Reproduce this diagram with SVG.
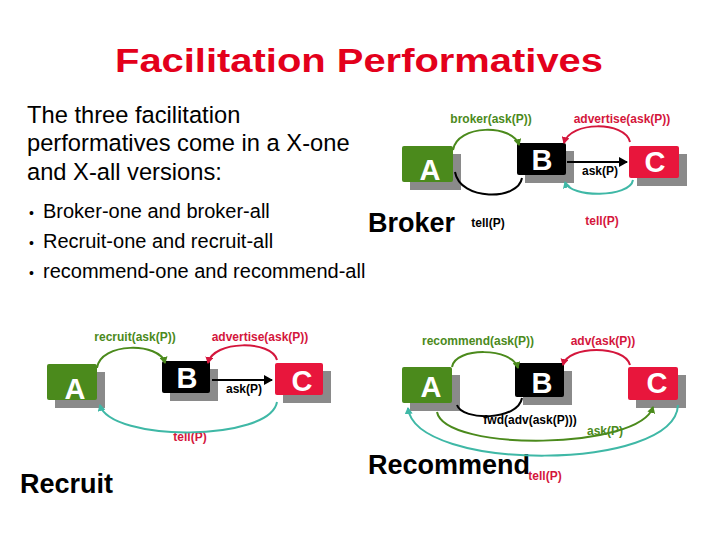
<svg xmlns="http://www.w3.org/2000/svg" width="720" height="540" viewBox="0 0 720 540">
<style>
.t{font-family:"Liberation Sans",Arial,sans-serif}
.b{font-family:"Liberation Sans",Arial,sans-serif;font-weight:bold}
.lbl{font-family:"Liberation Sans",Arial,sans-serif;font-weight:bold;font-size:12px;text-anchor:middle}
.g{fill:#4b8a1c}.r{fill:#d4163c}.k{fill:#000}
.sh{fill:#8a8a8a}
.box{font-family:"Liberation Sans",Arial,sans-serif;font-weight:bold;font-size:29px;fill:#fff;text-anchor:middle}
.big{font-family:"Liberation Sans",Arial,sans-serif;font-weight:bold;font-size:27px;fill:#000}
.c{fill:none;stroke-width:2}
</style>
<defs>
<marker id="ag" markerWidth="8" markerHeight="8" refX="6" refY="4" orient="auto" markerUnits="userSpaceOnUse"><path d="M0,0 L7,4 L0,8 z" fill="#4b8a1c"/></marker>
<marker id="ar" markerWidth="8" markerHeight="8" refX="6" refY="4" orient="auto" markerUnits="userSpaceOnUse"><path d="M0,0 L7,4 L0,8 z" fill="#d4163c"/></marker>
<marker id="at" markerWidth="8" markerHeight="8" refX="6" refY="4" orient="auto" markerUnits="userSpaceOnUse"><path d="M0,0 L7,4 L0,8 z" fill="#3fb8a6"/></marker>
<marker id="ak" markerWidth="10" markerHeight="10" refX="8" refY="5" orient="auto" markerUnits="userSpaceOnUse"><path d="M0,0 L9,5 L0,10 z" fill="#000"/></marker>
</defs>
<rect width="720" height="540" fill="#fff"/>
<text x="359" y="72" class="b" font-size="34" fill="#e3001b" text-anchor="middle" textLength="488" lengthAdjust="spacingAndGlyphs">Facilitation Performatives</text>
<g class="t" font-size="23.7" fill="#000">
<text x="27" y="123">The three facilitation</text>
<text x="27" y="151">performatives come in a X-one</text>
<text x="27" y="180">and X-all versions:</text>
</g>
<g class="t" font-size="20" fill="#000">
<text x="29" y="218" font-size="14">•</text><text x="43" y="218">Broker-one and broker-all</text>
<text x="29" y="248" font-size="14">•</text><text x="43" y="248">Recruit-one and recruit-all</text>
<text x="29" y="278" font-size="14">•</text><text x="43" y="278">recommend-one and recommend-all</text>
</g>

<!-- Broker -->
<g id="broker-A"><rect x="410" y="154" width="51" height="36" class="sh"/><rect x="402" y="146" width="51" height="36" rx="2" class="g"/><text x="430" y="180" class="box" font-size="32">A</text></g>
<g id="broker-B"><rect x="525" y="151" width="49" height="32" class="sh"/><rect x="517" y="143" width="49" height="32" rx="2" class="k"/><text x="542" y="170" class="box">B</text></g>
<g id="broker-C"><rect x="637" y="154" width="50" height="32" class="sh"/><rect x="629" y="146" width="50" height="32" rx="2" fill="#e8163c"/><text x="655" y="172" class="box">C</text></g>
<text x="368" y="232" class="big">Broker</text>
<text x="491" y="123" class="lbl g">broker(ask(P))</text>
<text x="622" y="123" class="lbl r">advertise(ask(P))</text>
<text x="600" y="175" class="lbl k">ask(P)</text>
<text x="488" y="227" class="lbl k">tell(P)</text>
<text x="602" y="225" class="lbl r">tell(P)</text>

<!-- Recruit -->
<g id="recruit-A"><rect x="55" y="372" width="50" height="36" class="sh"/><rect x="47" y="364" width="50" height="36" rx="2" class="g"/><text x="75" y="399" class="box">A</text></g>
<g id="recruit-B"><rect x="170" y="369" width="48" height="32" class="sh"/><rect x="162" y="361" width="48" height="32" rx="2" class="k"/><text x="187" y="388" class="box">B</text></g>
<g id="recruit-C"><rect x="283" y="371" width="48" height="32" class="sh"/><rect x="275" y="363" width="48" height="32" rx="2" fill="#e8163c"/><text x="302" y="391" class="box">C</text></g>
<text x="20" y="493" class="big">Recruit</text>
<text x="135" y="341" class="lbl g">recruit(ask(P))</text>
<text x="260" y="341" class="lbl r">advertise(ask(P))</text>
<text x="244" y="393" class="lbl k">ask(P)</text>
<text x="190" y="441" class="lbl r">tell(P)</text>

<!-- Recommend -->
<g id="rec-A"><rect x="410" y="375" width="50" height="36" class="sh"/><rect x="402" y="367" width="50" height="36" rx="2" class="g"/><text x="431" y="397" class="box">A</text></g>
<g id="rec-B"><rect x="523" y="371" width="49" height="34" class="sh"/><rect x="515" y="363" width="49" height="34" rx="2" class="k"/><text x="542" y="393" class="box">B</text></g>
<g id="rec-C"><rect x="636" y="375" width="50" height="33" class="sh"/><rect x="628" y="367" width="50" height="33" rx="2" fill="#e8163c"/><text x="657" y="393" class="box">C</text></g>
<text x="368" y="474" class="big">Recommend</text>
<text x="478" y="345" class="lbl g">recommend(ask(P))</text>
<text x="603" y="345" class="lbl r">adv(ask(P))</text>
<text x="530" y="424" class="lbl k">fwd(adv(ask(P)))</text>
<text x="605" y="435" class="lbl g">ask(P)</text>
<text x="545" y="480" class="lbl r">tell(P)</text>

<g id="connectors">
<path class="c" stroke="#4b8a1c" d="M453,150 C457,124 513,124 519,145" marker-end="url(#ag)"/>
<path class="c" stroke="#000" d="M455,172 C460,201 518,201 522,178"/>
<path class="c" stroke="#000" d="M567,162 L627,162" marker-end="url(#ak)"/>
<path class="c" stroke="#d4163c" d="M630,142 C625,121 570,121 564,143" marker-end="url(#ar)"/>
<path class="c" stroke="#3fb8a6" d="M633,180 C630,198 570,198 565,182" marker-end="url(#at)"/>

<path class="c" stroke="#4b8a1c" d="M97,368 C100,342 160,342 165,363" marker-end="url(#ag)"/>
<path class="c" stroke="#d4163c" d="M277,360 C272,340 213,340 208,363" marker-end="url(#ar)"/>
<path class="c" stroke="#000" d="M212,380 L272,380" marker-end="url(#ak)"/>
<path class="c" stroke="#3fb8a6" d="M277,402 C270,442 110,442 100,405" marker-end="url(#at)"/>

<path class="c" stroke="#4b8a1c" d="M452,367 C455,347 512,347 518,368" marker-end="url(#ag)"/>
<path class="c" stroke="#d4163c" d="M630,365 C625,345 568,345 563,365" marker-end="url(#ar)"/>
<path class="c" stroke="#000" d="M457,405 C462,421 518,421 522,398"/>
<path class="c" stroke="#4b8a1c" d="M437,412 C445,452 640,450 653,407" marker-end="url(#ag)"/>
<path class="c" stroke="#3fb8a6" d="M678,405 C675,472 415,472 408,408" marker-end="url(#at)"/>
</g>
</svg>
